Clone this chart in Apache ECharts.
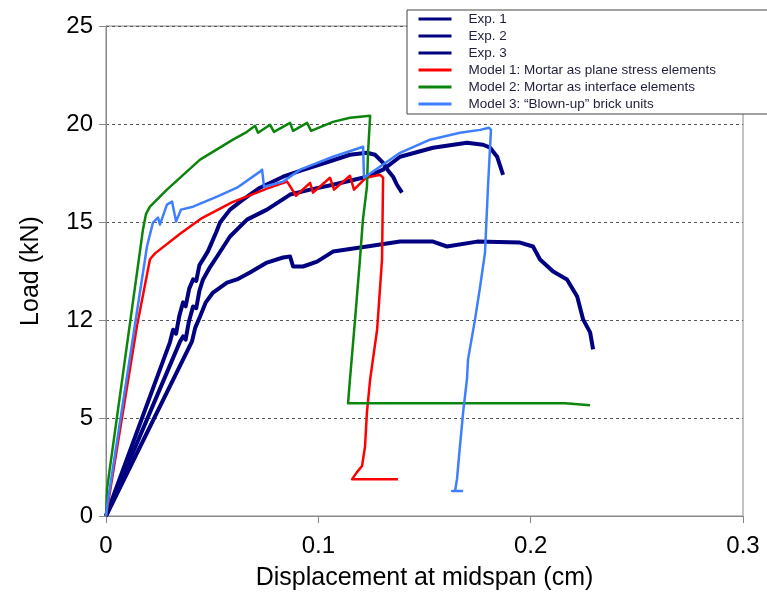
<!DOCTYPE html>
<html>
<head>
<meta charset="utf-8">
<script src="https://cdn.jsdelivr.net/npm/echarts@6/dist/echarts.min.js"></script>
<style>
  html, body { margin: 0; padding: 0; background: #fff; }
  #chart { width: 767px; height: 596px; }
</style>
</head>
<body>
<div id="chart"></div>
<script>
// tick labels as printed in the original (the 10 kN line is labelled "12")
const xTickLabels = ['0', '0.1', '0.2', '0.3'];
const yTickLabels = ['0', '5', '12', '15', '20', '25'];

const seriesNames = [
  'Exp. 1',
  'Exp. 2',
  'Exp. 3',
  'Model 1: Mortar as plane stress elements',
  'Model 2: Mortar as interface elements',
  'Model 3: \u201cBlown-up\u201d brick units'
];

// [displacement (cm), load (kN)]
const exp1 = [[0,0],[0.0301,8.86],[0.0316,9.5],[0.0330,9.3],[0.0345,10.2],[0.0363,10.9],[0.0375,10.7],[0.0392,11.6],
  [0.041,12.07],[0.0425,12.0],[0.0440,12.8],[0.0457,13.09],[0.0480,13.5],[0.0504,14.1],[0.0520,14.5],[0.0537,14.97],
  [0.0584,15.63],[0.0645,16.14],[0.0725,16.75],[0.0834,17.31],[0.0928,17.66],[0.1055,18.1],[0.1149,18.43],[0.1229,18.53],
  [0.1267,18.43],[0.1305,18.02],[0.1330,17.6],[0.1352,17.31],[0.1370,16.9],[0.1385,16.65],[0.1394,16.5]];

const exp2 = [[0,0],[0.0349,8.91],[0.0363,9.16],[0.0375,9.0],[0.0390,9.9],[0.041,10.69],[0.0425,10.6],[0.0440,11.5],
  [0.0457,12.07],[0.0490,12.7],[0.0523,13.24],[0.0584,14.26],[0.0664,15.12],[0.0758,15.63],[0.0867,16.4],[0.0961,16.65],
  [0.1069,16.9],[0.1229,17.31],[0.1305,17.67],[0.1385,18.33],[0.154,18.79],[0.17,19.04],[0.1776,18.94],[0.1809,18.79],
  [0.1842,18.33],[0.1855,17.9],[0.187,17.41]];

const exp3 = [[0,0],[0.0405,8.91],[0.0420,9.6],[0.0443,10.18],[0.0470,10.9],[0.0504,11.4],[0.057,11.91],[0.0617,12.07],
  [0.0678,12.42],[0.0758,12.93],[0.0834,13.19],[0.0867,13.24],[0.0881,12.73],[0.0928,12.73],[0.0994,12.98],[0.1069,13.49],
  [0.1229,13.75],[0.1385,14.0],[0.154,14.0],[0.1606,13.75],[0.1748,14.0],[0.195,13.95],[0.2011,13.75],[0.2044,13.09],
  [0.2106,12.47],[0.2171,12.07],[0.2219,11.2],[0.2247,10.03],[0.228,9.37],[0.2294,8.5]];

const model1 = [[0,0],[0.0146,9.7],[0.0207,13.1],[0.0231,13.4],[0.0349,14.4],[0.0452,15.2],[0.0593,16.0],[0.0758,16.7],
  [0.0853,17.06],[0.0895,16.34],[0.0961,17.0],[0.0975,16.5],[0.1055,17.26],[0.1074,16.65],[0.1149,17.36],[0.1168,16.65],
  [0.1225,17.26],[0.1291,17.41],[0.1305,17.26],[0.130,13.09],[0.1277,9.52],[0.1244,6.97],[0.1229,5.3],[0.122,3.56],
  [0.1206,2.55],[0.1182,2.24],[0.1159,1.88],[0.1375,1.88]];

const model2 = [[0,0],[0.0005,1.4],[0.0174,14.61],[0.0188,15.4],[0.0207,15.78],[0.0287,16.65],[0.0443,18.18],[0.0598,19.2],
  [0.0664,19.6],[0.0702,19.91],[0.0716,19.55],[0.0773,19.96],[0.0791,19.6],[0.0867,20.06],[0.0881,19.65],[0.0947,20.06],
  [0.0966,19.65],[0.1069,20.11],[0.1149,20.32],[0.1244,20.42],[0.1234,18.53],[0.1229,16.8],[0.121,15.12],[0.1196,13.09],
  [0.1173,10.03],[0.1149,6.97],[0.114,5.75],[0.2162,5.75],[0.2171,5.65],[0.228,5.65]];

const model3 = [[0,0],[0.0005,0.5],[0.0193,13.75],[0.0221,14.97],[0.0245,15.22],[0.0254,14.87],[0.0287,15.89],[0.0311,16.04],
  [0.033,15.02],[0.0353,15.63],[0.041,15.78],[0.0523,16.29],[0.0617,16.75],[0.0725,17.57],[0.0735,17.67],[0.0744,16.8],
  [0.0834,17.06],[0.0914,17.67],[0.1069,18.33],[0.1211,18.84],[0.122,18.84],[0.1215,17.26],[0.1385,18.53],[0.1526,19.2],
  [0.1667,19.55],[0.1762,19.7],[0.1804,19.81],[0.1813,19.7],[0.1799,16.8],[0.1785,13.44],[0.1762,11.71],[0.1738,10.03],
  [0.1705,7.99],[0.17,6.98],[0.1682,5.3],[0.1667,3.56],[0.1653,1.88],[0.1644,1.27],[0.163,1.27],[0.1682,1.27]];

const seriesData = [exp1, exp2, exp3, model1, model2, model3];
const seriesColors = ['#000080', '#000080', '#000080', '#ff0000', '#0b850b', '#3f7fff'];
const seriesWidths = [4, 4, 4, 2.5, 2.5, 2.5];

const font = "'Liberation Sans', Arial, sans-serif";
const chart = echarts.init(document.getElementById('chart'), null, { renderer: 'canvas' });

const option = {
  animation: false,
  backgroundColor: '#fff',
  grid: {
    left: 106, right: 24, top: 26, bottom: 79,
    show: true,
    borderColor: '#888',
    borderWidth: 1
  },
  legend: {
    orient: 'vertical',
    left: 407,
    top: 10,
    padding: [2, 70, 3, 10],
    itemWidth: 33,
    itemHeight: 10,
    itemGap: 3,
    borderColor: '#444',
    borderWidth: 1,
    backgroundColor: '#fff',
    // only the line in the legend key, no marker on it
    itemStyle: { opacity: 0 },
    lineStyle: { width: 3 },
    textStyle: { fontFamily: font, fontSize: 13.5, color: '#1e1e3a', padding: [0, 0, 0, 12] },
    data: seriesNames
  },
  xAxis: {
    type: 'value',
    min: 0, max: 0.3, interval: 0.1,
    name: 'Displacement at midspan (cm)',
    nameLocation: 'middle',
    nameGap: 50,
    nameTextStyle: { fontFamily: font, fontSize: 25, color: '#000' },
    axisLine: { onZero: false, lineStyle: { color: '#888', width: 1 } },
    axisTick: { show: true, length: 7, lineStyle: { color: '#888' } },
    axisLabel: {
      fontFamily: font, fontSize: 24, color: '#000', margin: 18,
      formatter: (v) => xTickLabels[Math.round(v / 0.1)]
    },
    splitLine: { show: false }
  },
  yAxis: {
    type: 'value',
    min: 0, max: 25, interval: 5,
    name: 'Load (kN)',
    nameLocation: 'middle',
    nameGap: 62,
    nameTextStyle: { fontFamily: font, fontSize: 25, color: '#000' },
    axisLine: { show: true, onZero: false, lineStyle: { color: '#888', width: 1 } },
    axisTick: { show: true, length: 7, lineStyle: { color: '#888' } },
    axisLabel: {
      fontFamily: font, fontSize: 24, color: '#000', margin: 13,
      formatter: (v) => yTickLabels[Math.round(v / 5)]
    },
    splitLine: { show: true, lineStyle: { color: '#555', type: [3, 3], width: 1 } }
  },
  series: seriesNames.map((name, i) => ({
    name: name,
    type: 'line',
    data: seriesData[i],
    symbol: 'none',
    smooth: false,
    color: seriesColors[i],
    lineStyle: { color: seriesColors[i], width: seriesWidths[i], join: 'round' }
  }))
};

chart.setOption(option);
</script>
</body>
</html>
